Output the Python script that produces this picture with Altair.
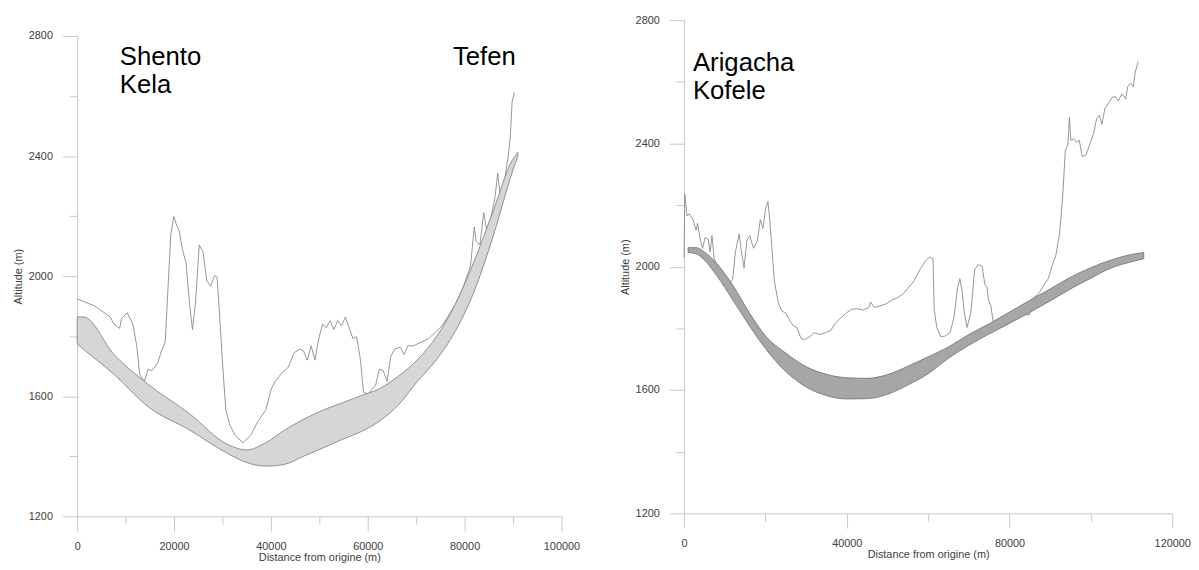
import altair as alt
import pandas as pd

FONT = "Liberation Sans"

# ---------------- Left panel: Shento Kela -> Tefen ----------------
left_terrain_x = [0, 3680, 6810, 7600, 8770, 9160, 10340, 11500, 12300, 12900, 13860, 14640, 15430, 16600,
                  17380, 18170, 18560, 19340, 19970, 20520, 21070, 21690, 22470, 23260, 23800, 24430, 25210,
                  26000, 26770, 27560, 28340, 28900, 29520, 30070, 30700, 31480, 32650, 34220, 35790, 37350,
                  38920, 40090, 40870, 42050, 43610, 44790, 45960, 46750, 47530, 48320, 49100, 49880, 50670,
                  51450, 52240, 53020, 53800, 54580, 55380, 56160, 56940, 57720, 58510, 59130, 60070, 61630,
                  62410, 63200, 63980, 64760, 65550, 66720, 67500, 68290, 69460, 71030, 72600, 74160, 75340,
                  76510, 78080, 79640, 81210, 82000, 82380, 83160, 83950, 84570, 85510, 86300, 86840, 87310,
                  88250, 89040, 89430, 89820, 90290]
left_terrain_alt = [1924, 1900, 1864, 1840, 1826, 1858, 1878, 1840, 1768, 1673, 1649, 1690, 1685, 1709,
                    1750, 1780, 1900, 2139, 2199, 2169, 2151, 2092, 2044, 1900, 1822, 1912, 2104,
                    2080, 1984, 1966, 2002, 1996, 1840, 1697, 1553, 1505, 1469, 1445, 1469, 1517,
                    1553, 1625, 1649, 1673, 1697, 1745, 1757, 1750, 1720, 1768, 1720, 1792, 1840,
                    1828, 1852, 1822, 1852, 1834, 1864, 1828, 1792, 1798, 1720, 1613, 1607, 1637,
                    1690, 1685, 1649, 1732, 1757, 1763, 1739, 1768, 1768, 1780, 1792, 1816, 1834,
                    1864, 1906, 1960, 2032, 2163, 2116, 2104, 2211, 2151, 2199, 2265, 2343, 2271,
                    2319, 2403, 2463, 2582, 2612]
left_band_x = [0, 1330, 7600, 14640, 23260, 31090, 35000, 38920, 42830, 46750, 50670, 54580, 58500,
               62410, 66330, 70240, 74160, 78070, 81990, 85900, 89820, 91000]
left_band_upper = [1864, 1864, 1739, 1640, 1541, 1439, 1421, 1445, 1487, 1523, 1553, 1577, 1601,
                   1625, 1667, 1721, 1798, 1906, 2050, 2217, 2385, 2412]
left_band_lower = [1774, 1756, 1673, 1565, 1487, 1409, 1379, 1367, 1373, 1400, 1427, 1455, 1481,
                   1517, 1571, 1649, 1721, 1816, 1950, 2133, 2345, 2400]
left_label_text = ["Shento\nKela", "Tefen"]
left_label_x = [8800, 77600]
left_label_y = [2704, 2704]
left_x_ticks = [0, 10000, 20000, 30000, 40000, 50000, 60000, 70000, 80000, 90000, 100000]

# ---------------- Right panel: Arigacha -> Kofele ----------------
right_terrain_x = [0, 200, 740, 1300, 2230, 2970, 3340, 3900, 4550, 5200, 5940, 6410, 6870, 7430, 9000,
                   11000, 11980, 12630, 13560, 14120, 14770, 15420, 16160, 17090, 18020, 18760, 19410,
                   20060, 20620, 20990, 21550, 22200, 23130, 24060, 24990, 25910, 26840, 27770, 28700,
                   29630, 31020, 31950, 33340, 34740, 36130, 37060, 38450, 39840, 41240, 42630, 44020,
                   45420, 45880, 46810, 48200, 49600, 50990, 52380, 53780, 55170, 56560, 57960, 59350,
                   60280, 61210, 61490, 62140, 63070, 64000, 65390, 66320, 67250, 67810, 68370, 68920,
                   69570, 70500, 71420, 72350, 73280, 73930, 74490, 74860, 75420, 76070, 76350, 79000,
                   81000, 83000, 84890, 85820, 87210, 88600, 89530, 90460, 91390, 92310, 93060, 93710,
                   94360, 94730, 95100, 95840, 96490, 97150, 97890, 98820, 99750, 100680, 101420,
                   102070, 102720, 103460, 104390, 105140, 106070, 106720, 107650, 108580, 109040,
                   109780, 110430, 110900, 111640]
right_terrain_alt = [2030, 2235, 2165, 2171, 2153, 2118, 2141, 2095, 2060, 2095, 2089, 2048, 2101, 2025, 1985,
                     1940, 1961, 2048, 2107, 2048, 1996, 2083, 2101, 2060, 2083, 2153, 2124,
                     2188, 2211, 2165, 2072, 1955, 1885, 1856, 1850, 1827, 1809, 1803, 1769,
                     1763, 1774, 1786, 1780, 1786, 1794, 1815, 1833, 1850, 1862, 1864, 1859,
                     1868, 1885, 1868, 1873, 1879, 1891, 1899, 1911, 1932, 1955, 1990, 2019,
                     2031, 2025, 1862, 1803, 1774, 1774, 1786, 1833, 1932, 1961, 1920, 1850,
                     1803, 1850, 1990, 2007, 2002, 1943, 1932, 1891, 1873, 1815, 1792, 1820,
                     1835, 1845, 1844, 1897, 1914, 1943, 1961, 2002, 2037, 2107, 2223, 2375,
                     2398, 2485, 2410, 2415, 2404, 2410, 2357, 2363, 2398, 2433, 2480,
                     2491, 2462, 2514, 2532, 2549, 2552, 2538, 2561, 2544, 2584,
                     2596, 2584, 2631, 2666]
right_band_x = [1000, 3000, 5000, 8000, 12000, 16000, 20000, 25000, 30000, 35000, 40000, 45000, 50000,
                55000, 60000, 65000, 70000, 75000, 80000, 85000, 90000, 95000, 100000, 105000, 110000, 113000]
right_band_upper = [2062, 2062, 2048, 2011, 1940, 1852, 1776, 1720, 1676, 1651, 1640, 1638, 1650,
                    1677, 1708, 1740, 1780, 1815, 1853, 1891, 1928, 1966, 1997, 2022, 2040, 2046]
right_band_lower = [2046, 2042, 2022, 1972, 1892, 1810, 1735, 1660, 1610, 1582, 1571, 1572, 1586,
                    1616, 1653, 1703, 1745, 1782, 1816, 1852, 1889, 1928, 1963, 1996, 2016, 2026]
right_label_text = ["Arigacha\nKofele"]
right_label_x = [2200]
right_label_y = [2636]
right_x_ticks = [0, 20000, 40000, 60000, 80000, 100000, 120000]

y_ticks = [1200, 1400, 1600, 1800, 2000, 2200, 2400, 2600, 2800]

AXIS_GREY = "#c8c8c8"
TEXT_GREY = "#404040"


def x_axis(ticks, major):
    return alt.Axis(
        values=ticks, format="d", title="Distance from origine (m)",
        labelExpr=f"datum.value % {major} === 0 ? datum.label : ''",
        tickSize={"condition": {"test": f"datum.value % {major} === 0", "value": 15}, "value": 8},
        labelPadding=10, titlePadding=0, labelFlush=False, labelOverlap=False, grid=False,
        domainColor=AXIS_GREY, tickColor=AXIS_GREY, labelColor=TEXT_GREY, titleColor=TEXT_GREY,
        labelFontSize=11, titleFontSize=11, titleFontWeight="normal", labelFont=FONT, titleFont=FONT,
    )


def y_axis():
    return alt.Axis(
        values=y_ticks, format="d", title="Altitude (m)",
        labelExpr="datum.value % 400 === 0 ? datum.label : ''",
        tickSize={"condition": {"test": "datum.value % 400 === 0", "value": 15}, "value": 8},
        labelPadding=10, titlePadding=5, labelFlush=False, labelOverlap=False, grid=False,
        domainColor=AXIS_GREY, tickColor=AXIS_GREY, labelColor=TEXT_GREY, titleColor=TEXT_GREY,
        labelFontSize=11, titleFontSize=11, titleFontWeight="normal", labelFont=FONT, titleFont=FONT,
    )


def panel(tx, ty, bx, bu, bl, lx, ly, lt, xmax, xticks, xmajor, w, h, band_fill, band_stroke):
    terrain = pd.DataFrame({"x": tx, "alt": ty})
    band = pd.DataFrame({"x": bx, "upper": bu, "lower": bl})
    labels = pd.DataFrame({"x": lx, "y": ly, "t": lt})
    xs = alt.Scale(domain=[0, xmax], nice=False, zero=False)
    ys = alt.Scale(domain=[1200, 2800], nice=False, zero=False)
    line = alt.Chart(terrain).mark_line(color="#8a8a8a", strokeWidth=0.9).encode(
        x=alt.X("x:Q", scale=xs, axis=x_axis(xticks, xmajor)),
        y=alt.Y("alt:Q", scale=ys, axis=y_axis()),
    )
    area = alt.Chart(band).mark_area(
        fill=band_fill, stroke=band_stroke, strokeWidth=0.8, interpolate="monotone"
    ).encode(x="x:Q", y="upper:Q", y2="lower:Q")
    text = alt.Chart(labels).mark_text(
        align="left", baseline="alphabetic", fontSize=26, font=FONT,
        lineBreak="\n", lineHeight=29, color="black"
    ).encode(x="x:Q", y="y:Q", text="t:N")
    return alt.layer(line, area, text).properties(width=w, height=h)


left = panel(left_terrain_x, left_terrain_alt, left_band_x, left_band_upper, left_band_lower,
             left_label_x, left_label_y, left_label_text, 100000, left_x_ticks, 20000,
             490, 486, "#d6d6d6", "#7a7a7a")
right = panel(right_terrain_x, right_terrain_alt, right_band_x, right_band_upper, right_band_lower,
              right_label_x, right_label_y, right_label_text, 120000, right_x_ticks, 40000,
              494, 499, "#a6a6a6", "#6e6e6e")

# invisible spacer that drops the left panel a little lower than the right one
spacer = alt.Chart(pd.DataFrame({"s": [0]})).mark_point(opacity=0, size=0).properties(width=490, height=10)
left_col = alt.vconcat(spacer, left, spacing=0)

chart = alt.hconcat(left_col, right, spacing=39).properties(
    padding={"left": 4, "top": 3, "right": 0, "bottom": 0}
).configure_view(stroke=None)

chart.save("out.html", embed_options={"renderer": "svg", "actions": False})
